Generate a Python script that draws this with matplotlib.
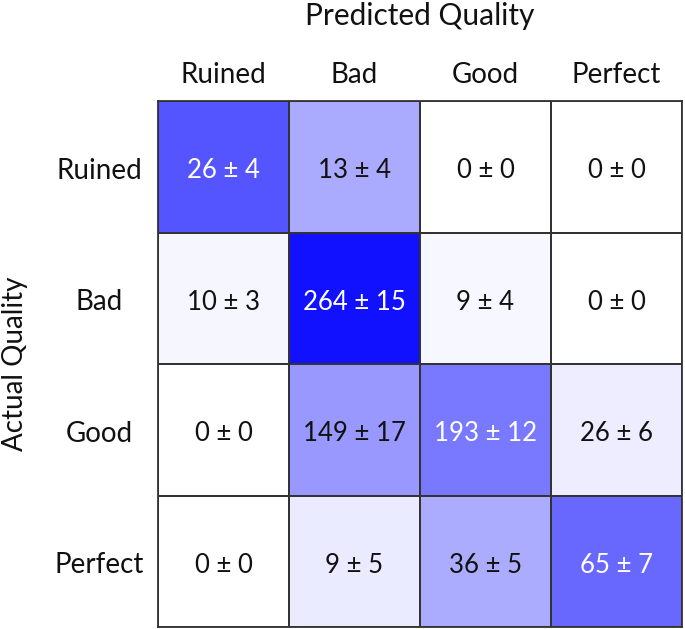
import numpy as np
import matplotlib
matplotlib.use('Agg')
import matplotlib.pyplot as plt
from matplotlib.colors import LinearSegmentedColormap

# --- Data ---
labels = ['Ruined', 'Bad', 'Good', 'Perfect']
means = np.array([
    [26, 13, 0, 0],
    [10, 264, 9, 0],
    [0, 149, 193, 26],
    [0, 9, 36, 65],
])
stds = np.array([
    [4, 4, 0, 0],
    [3, 15, 4, 0],
    [0, 17, 12, 6],
    [0, 5, 5, 7],
])

# colour is row-normalised
frac = means / means.sum(axis=1, keepdims=True)

plt.rcParams['font.family'] = ['Lato', 'DejaVu Sans']
cmap = LinearSegmentedColormap.from_list('wb', ['#ffffff', '#0000ff'])

dpi = 100
fig = plt.figure(figsize=(6.85, 6.29), dpi=dpi)
ax = fig.add_axes([158 / 685, 2 / 629, 524 / 685, 526 / 629])

ax.pcolormesh(np.arange(5), np.arange(5), frac, cmap=cmap, vmin=0, vmax=1,
              edgecolors='#333333', linewidth=1.3)
ax.set_xlim(0, 4)
ax.set_ylim(4, 0)

for i in range(4):
    for j in range(4):
        color = 'white' if frac[i, j] > 0.5 else '#111111'
        ax.text(j + 0.5, i + 0.53, f'{means[i, j]} \u00b1 {stds[i, j]}',
                ha='center', va='center', fontsize=18.5, color=color)

ax.set_xticks([])
ax.set_yticks([])
for s in ax.spines.values():
    s.set_color('#333333')
    s.set_linewidth(1.3)

# column labels
for j, lab in enumerate(labels):
    ax.text(j + 0.5, -0.2, lab, ha='center', va='center', fontsize=20, color='#111111')
# row labels
for i, lab in enumerate(labels):
    ax.text(-0.45, i + 0.53, lab, ha='center', va='center', fontsize=20, color='#111111')

fig.text(420 / 685, 1 - 16 / 629, 'Predicted Quality', ha='center', va='center',
         fontsize=21.5, color='#111111')
fig.text(15 / 685, 1 - 364 / 629, 'Actual Quality', ha='center', va='center',
         rotation=90, fontsize=20, color='#111111')

fig.savefig('out.png', dpi=dpi)
